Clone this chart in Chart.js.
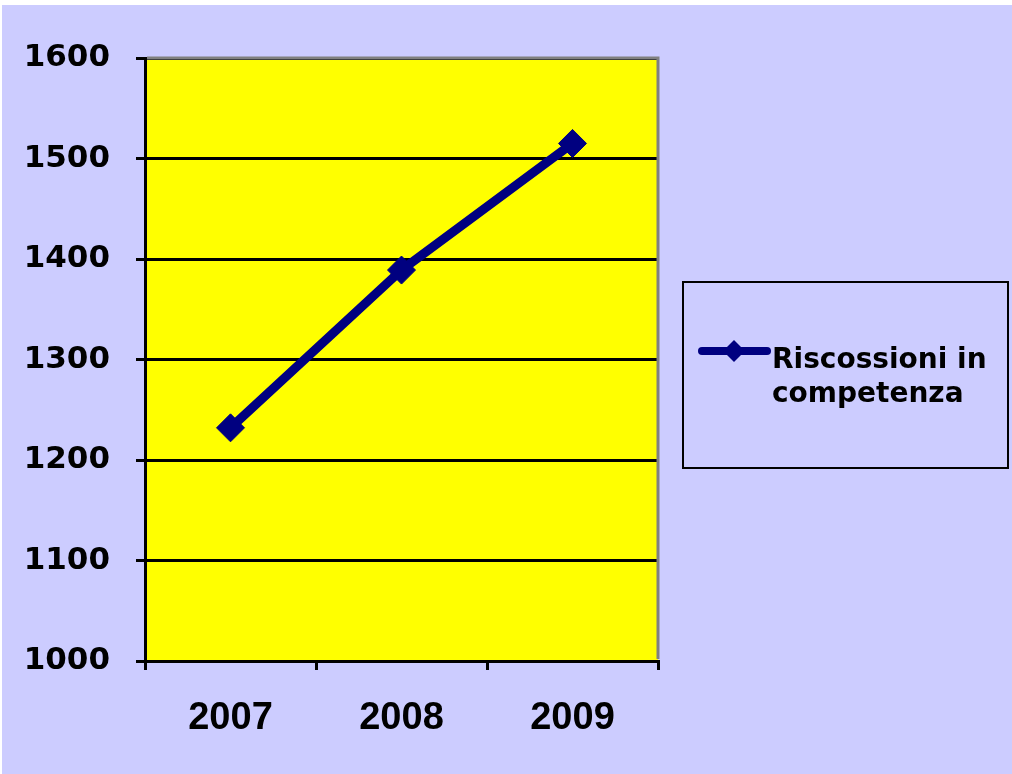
<!DOCTYPE html>
<html>
<head>
<meta charset="utf-8">
<title>Riscossioni in competenza</title>
<script src="https://cdn.jsdelivr.net/npm/chart.js@4/dist/chart.umd.min.js"></script>
<style>
  html, body { margin: 0; padding: 0; background: #ffffff; }
  #wrap { position: absolute; left: 2px; top: 5px; width: 1010px; height: 769px; background: #CCCCFF; }
  canvas { display: block; }
</style>
</head>
<body>
<div id="wrap"><canvas id="chart" width="1010" height="769"></canvas></div>
<script>
// Data
const years = ['2007', '2008', '2009'];
const riscossioni = [1232, 1389, 1515];
const seriesLabel = 'Riscossioni in competenza';
const yTicks = [1000, 1100, 1200, 1300, 1400, 1500, 1600];

const NAVY = '#000080';
const WIDE = "'DejaVu Sans', sans-serif";
const NARROW = "'Liberation Sans', Arial, sans-serif";

// Yellow plot area plus the grey frame on its top and right edges
const plotFrame = {
  id: 'plotFrame',
  beforeDraw(chart) {
    const { ctx, chartArea: a } = chart;
    ctx.save();
    ctx.fillStyle = '#FFFF00';
    ctx.fillRect(a.left, a.top, a.right - a.left, a.bottom - a.top);
    ctx.restore();
  },
  beforeDatasetsDraw(chart) {
    const { ctx, chartArea: a } = chart;
    ctx.save();
    ctx.strokeStyle = '#808080';
    ctx.lineWidth = 3;
    ctx.beginPath();
    ctx.moveTo(a.left + 2, a.top);
    ctx.lineTo(a.right, a.top);
    ctx.lineTo(a.right, a.bottom - 2);
    ctx.stroke();
    ctx.restore();
  }
};

// Boxed legend on the right, with the series label wrapped over two lines
const boxLegend = {
  id: 'boxLegend',
  afterDraw(chart) {
    const { ctx } = chart;
    const ds = chart.data.datasets[0];
    const box = { x: 681, y: 277, w: 325, h: 186 };
    ctx.save();
    ctx.strokeStyle = '#000000';
    ctx.lineWidth = 2;
    ctx.strokeRect(box.x, box.y, box.w, box.h);

    const ly = 346;
    ctx.strokeStyle = ds.borderColor;
    ctx.lineWidth = 8;
    ctx.lineCap = 'round';
    ctx.beginPath();
    ctx.moveTo(700, ly);
    ctx.lineTo(765, ly);
    ctx.stroke();

    const r = 11;
    const cx = 732;
    ctx.fillStyle = ds.pointBackgroundColor;
    ctx.beginPath();
    ctx.moveTo(cx, ly - r);
    ctx.lineTo(cx + r, ly);
    ctx.lineTo(cx, ly + r);
    ctx.lineTo(cx - r, ly);
    ctx.closePath();
    ctx.fill();

    ctx.font = 'bold 28px ' + WIDE;
    ctx.fillStyle = '#000000';
    ctx.textBaseline = 'alphabetic';
    ctx.textAlign = 'left';
    const words = ds.label.split(' ');
    const lines = [];
    let cur = '';
    words.forEach(w => {
      const t = cur ? cur + ' ' + w : w;
      if (cur && ctx.measureText(t).width > 225) { lines.push(cur); cur = w; }
      else cur = t;
    });
    if (cur) lines.push(cur);
    lines.forEach((t, i) => ctx.fillText(t, 770, 363 + i * 34));
    ctx.restore();
  }
};

new Chart(document.getElementById('chart'), {
  type: 'line',
  data: {
    labels: years,
    datasets: [{
      label: seriesLabel,
      data: riscossioni,
      borderColor: NAVY,
      backgroundColor: NAVY,
      pointBackgroundColor: NAVY,
      pointBorderColor: NAVY,
      borderWidth: 9,
      pointStyle: 'rectRot',
      pointRadius: 14,
      pointBorderWidth: 1,
      tension: 0,
      fill: false
    }]
  },
  options: {
    responsive: false,
    animation: false,
    layout: { padding: { left: 0, top: 53, right: 354, bottom: 0 } },
    plugins: {
      legend: { display: false },
      tooltip: { enabled: false },
      title: { display: false }
    },
    scales: {
      x: {
        type: 'category',
        offset: true,
        grid: {
          offset: true,
          drawOnChartArea: false,
          drawTicks: true,
          tickLength: 9,
          color: '#000000',
          lineWidth: 3
        },
        border: { display: true, color: '#000000', width: 3 },
        ticks: {
          color: '#000000',
          padding: 26,
          maxRotation: 0,
          font: { family: NARROW, size: 38, weight: 'bold' }
        },
        afterFit(scale) { scale.height = 113; }
      },
      y: {
        min: yTicks[0],
        max: yTicks[yTicks.length - 1],
        afterBuildTicks(scale) { scale.ticks = yTicks.map(v => ({ value: v })); },
        grid: {
          color: '#000000',
          lineWidth: 3,
          drawTicks: true,
          tickLength: 9
        },
        border: { display: true, color: '#000000', width: 3 },
        ticks: {
          color: '#000000',
          padding: 26,
          callback: v => String(v),
          font: { family: WIDE, size: 31, weight: 'bold' }
        },
        afterFit(scale) { scale.width = 143; }
      }
    }
  },
  plugins: [plotFrame, boxLegend]
});
</script>
</body>
</html>
